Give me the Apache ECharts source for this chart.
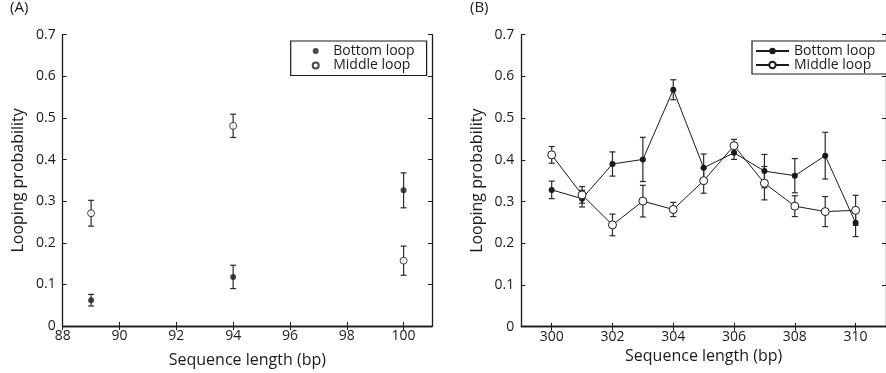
<!DOCTYPE html>
<html>
<head>
<meta charset="utf-8">
<script src="https://cdn.jsdelivr.net/npm/echarts@6/dist/echarts.min.js"></script>
<style>
html,body{margin:0;padding:0;background:#fff;}
#c{width:886px;height:373px;}
</style>
</head>
<body>
<div id="c"></div>
<script>
// ---- Data ----
const lengthsA = [89, 94, 100];
const bottomA = [0.062, 0.118, 0.326];
const bottomAErr = [0.014, 0.028, 0.042];
const middleA = [0.271, 0.481, 0.157];
const middleAErr = [0.031, 0.028, 0.035];

const lengthsB = [300, 301, 302, 303, 304, 305, 306, 307, 308, 309, 310];
const bottomB = [0.328, 0.307, 0.390, 0.401, 0.568, 0.381, 0.417, 0.373, 0.362, 0.410, 0.249];
const bottomBErr = [0.021, 0.020, 0.029, 0.053, 0.024, 0.033, 0.016, 0.040, 0.041, 0.056, 0.033];
const middleB = [0.412, 0.316, 0.244, 0.301, 0.281, 0.350, 0.434, 0.344, 0.289, 0.276, 0.279];
const middleBErr = [0.020, 0.020, 0.026, 0.038, 0.017, 0.030, 0.015, 0.040, 0.025, 0.036, 0.036];

const xTicksA = [88, 90, 92, 94, 96, 98, 100];
const xTicksB = [300, 302, 304, 306, 308, 310];
const yTicks = [0, 0.1, 0.2, 0.3, 0.4, 0.5, 0.6, 0.7];
const seriesNamesA = ['Bottom loop', 'Middle loop'];
const seriesNamesB = ['Bottom loop ', 'Middle loop '];

// ---- Helpers ----
const FONT = '"Open Sans", "Noto Sans", sans-serif';
const INK = '#1a1a1a';
function pts(xs, ys) { return xs.map((x, i) => [x, ys[i]]); }
function errs(xs, ys, es) { return xs.map((x, i) => [x, ys[i] - es[i], ys[i] + es[i]]); }
function errRender(params, api) {
  const x = api.value(0);
  const top = api.coord([x, api.value(2)]);
  const bot = api.coord([x, api.value(1)]);
  const hw = 3;
  const st = { stroke: '#2a2a2a', lineWidth: 1.2 };
  return { type: 'group', children: [
    { type: 'line', shape: { x1: top[0], y1: top[1], x2: bot[0], y2: bot[1] }, style: st },
    { type: 'line', shape: { x1: top[0] - hw, y1: top[1], x2: top[0] + hw, y2: top[1] }, style: st },
    { type: 'line', shape: { x1: bot[0] - hw, y1: bot[1], x2: bot[0] + hw, y2: bot[1] }, style: st }
  ]};
}
function errSeries(xi, yi, data) {
  return { type: 'custom', xAxisIndex: xi, yAxisIndex: yi, renderItem: errRender, data: data, z: 1, silent: true };
}
const axisLineStyle = { lineStyle: { color: INK, width: 1.3 } };
function mainX(grid, min, max, ticks, nameGap) {
  return {
    type: 'value', gridIndex: grid, min: min, max: max, position: 'bottom',
    name: 'Sequence length (bp)', nameLocation: 'middle', nameGap: nameGap,
    nameTextStyle: { fontFamily: FONT, fontSize: 16, color: INK },
    axisLine: axisLineStyle, splitLine: { show: false },
    axisTick: { inside: true, length: 4, lineStyle: { color: INK }, customValues: ticks },
    axisLabel: { fontFamily: FONT, fontSize: 14, color: INK, margin: 3, customValues: ticks,
      formatter: v => String(v) }
  };
}
function topX(grid, min, max, ticks) {
  return {
    type: 'value', gridIndex: grid, min: min, max: max, position: 'top',
    axisLine: axisLineStyle, splitLine: { show: false },
    axisTick: { inside: true, length: 4, lineStyle: { color: INK }, customValues: ticks },
    axisLabel: { show: false }
  };
}
function mainY(grid, nameGap) {
  return {
    type: 'value', gridIndex: grid, min: yTicks[0], max: yTicks[yTicks.length - 1], interval: 0.1,
    name: 'Looping probability', nameLocation: 'middle', nameGap: nameGap,
    nameTextStyle: { fontFamily: FONT, fontSize: 16, color: INK },
    axisLine: { show: true, lineStyle: { color: INK, width: 1.3 } }, splitLine: { show: false },
    axisTick: { show: true, inside: true, length: 4, lineStyle: { color: INK } },
    axisLabel: { fontFamily: FONT, fontSize: 14, color: INK, margin: 7,
      formatter: v => String(Math.round(v * 10) / 10) }
  };
}
function rightY(grid) {
  return {
    type: 'value', gridIndex: grid, min: yTicks[0], max: yTicks[yTicks.length - 1], interval: 0.1, position: 'right',
    axisLine: { show: true, lineStyle: { color: INK, width: 1.3 } }, splitLine: { show: false },
    axisTick: { show: true, inside: true, length: 4, lineStyle: { color: INK } },
    axisLabel: { show: false }
  };
}

const chart = echarts.init(document.getElementById('c'), null, { renderer: 'canvas' });
chart.setOption({
  animation: false,
  backgroundColor: '#fff',
  textStyle: { fontFamily: FONT },
  graphic: [
    { type: 'text', left: 10, top: 0, style: { text: '(A)', font: '15px ' + FONT, fill: INK } },
    { type: 'text', left: 470, top: 0, style: { text: '(B)', font: '15px ' + FONT, fill: INK } }
  ],
  grid: [
    { left: 62.7, top: 34.7, width: 369.3, height: 292 },
    { left: 521.3, top: 34.7, width: 369.2, height: 292 }
  ],
  legend: [
    {
      data: seriesNamesA, orient: 'vertical', left: 290.7, top: 41,
      itemWidth: 25, itemHeight: 6, itemGap: 0.5,
      padding: [3, 12, 3, 21],
      borderColor: INK, borderWidth: 1.2, backgroundColor: '#fff',
      textStyle: { fontFamily: FONT, fontSize: 14, color: INK, lineHeight: 12 },
      selectedMode: false
    },
    {
      data: seriesNamesB, orient: 'vertical', left: 752, top: 41,
      itemWidth: 33, itemHeight: 8, itemGap: 0,
      padding: [3, 12, 2, 3],
      borderColor: INK, borderWidth: 1.2, backgroundColor: '#fff',
      textStyle: { fontFamily: FONT, fontSize: 14, color: INK, lineHeight: 12.5 },
      selectedMode: false
    }
  ],
  xAxis: [
    mainX(0, 88, 101, xTicksA, 26),
    topX(0, 88, 101, xTicksA),
    mainX(1, 299, 311, xTicksB, 22),
    topX(1, 299, 311, xTicksB)
  ],
  yAxis: [
    mainY(0, 36),
    rightY(0),
    mainY(1, 36),
    rightY(1)
  ],
  series: [
    errSeries(0, 0, errs(lengthsA, bottomA, bottomAErr)),
    errSeries(0, 0, errs(lengthsA, middleA, middleAErr)),
    errSeries(2, 2, errs(lengthsB, bottomB, bottomBErr)),
    errSeries(2, 2, errs(lengthsB, middleB, middleBErr)),
    { name: seriesNamesA[0], type: 'scatter', xAxisIndex: 0, yAxisIndex: 0, data: pts(lengthsA, bottomA),
      symbol: 'circle', symbolSize: 6, itemStyle: { color: INK }, z: 3 },
    { name: seriesNamesA[1], type: 'scatter', xAxisIndex: 0, yAxisIndex: 0, data: pts(lengthsA, middleA),
      symbol: 'circle', symbolSize: 7, itemStyle: { color: '#fff', borderColor: INK, borderWidth: 1 }, z: 3 },
    { name: seriesNamesB[0], type: 'line', xAxisIndex: 2, yAxisIndex: 2, data: pts(lengthsB, bottomB),
      symbol: 'circle', symbolSize: 6, itemStyle: { color: INK },
      lineStyle: { color: INK, width: 1 }, z: 3 },
    { name: seriesNamesB[1], type: 'line', xAxisIndex: 2, yAxisIndex: 2, data: pts(lengthsB, middleB),
      symbol: 'circle', symbolSize: 8, itemStyle: { color: '#fff', borderColor: INK, borderWidth: 1 },
      lineStyle: { color: INK, width: 1 }, z: 3 }
  ]
});
</script>
</body>
</html>
